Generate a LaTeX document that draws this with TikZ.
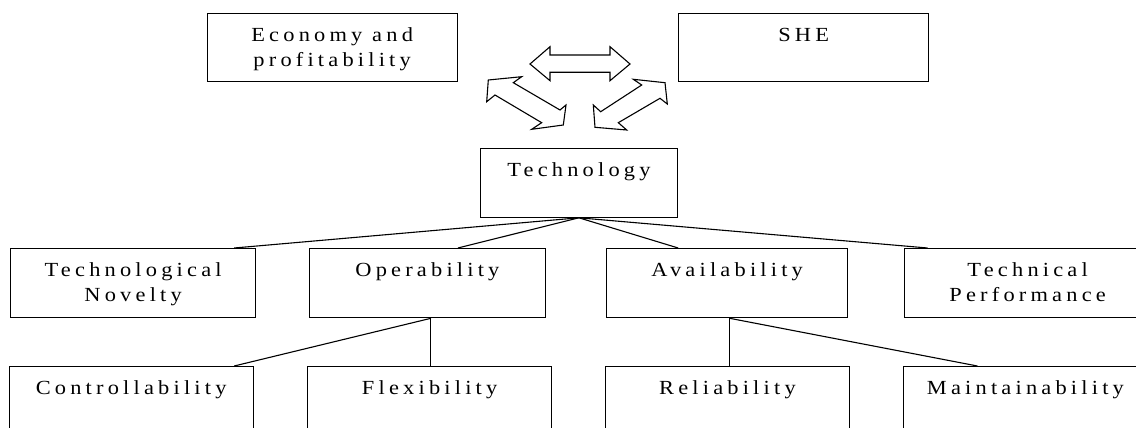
\documentclass[tikz,border=0pt]{standalone}
\usepackage{fontspec}
\setmainfont{Liberation Serif}[LetterSpace=21,FakeStretch=1.12]
\tikzset{
  box/.style={draw, line width=1.3pt, inner sep=0pt, anchor=north west},
  link/.style={line width=1.1pt},
  blockarrow/.style={draw, line width=1.1pt, line join=miter, fill=white},
}
\newcommand\mkbox[6]{%
  \node[box] (#1) at (#2,#3) {\parbox[c][\dimexpr #5pt-#3pt\relax][t]{\dimexpr #4pt-#2pt\relax}{%
    \fontsize{20}{25}\selectfont\centering\rule{0pt}{27.5pt}#6}};}
\begin{document}
\begin{tikzpicture}[x=1pt,y=-1pt]
\useasboundingbox (0,0) rectangle (1136,428);
\clip (0,0) rectangle (1136,428);
% top level
\mkbox{econ}{206.5}{13}{456.5}{81}{Economy and\\profitability}
\mkbox{she}{678}{13}{928}{81}{SHE}
\mkbox{tech}{480}{148}{676.5}{216.5}{Technology}
% second row
\mkbox{tn}{10}{248}{255}{317}{Technological\\Novelty}
\mkbox{oper}{308.5}{248}{545}{317}{Operability}
\mkbox{avail}{606}{248}{847}{317}{Availability}
\mkbox{tp}{904}{248}{1150}{317}{Technical\\Performance}
% third row
\mkbox{ctrl}{8.5}{366}{252.5}{440}{Controllability}
\mkbox{flex}{307}{366}{551}{440}{Flexibility}
\mkbox{rel}{604.5}{366}{849}{440}{Reliability}
\mkbox{maint}{902.5}{366}{1147}{440}{Maintainability}
% connectors
\draw[link] (tech.south) -- ([xshift=101pt]tn.north);
\draw[link] (tech.south) -- ([xshift=30.5pt]oper.north);
\draw[link] (tech.south) -- ([xshift=-49pt]avail.north);
\draw[link] (tech.south) -- ([xshift=-100pt]tp.north);
\coordinate (opj) at ([xshift=3.5pt]oper.south);
\coordinate (avj) at ([xshift=2.5pt]avail.south);
\draw[link] (opj) -- ([xshift=103pt]ctrl.north);
\draw[link] (opj) -- (opj |- flex.north);
\draw[link] (avj) -- (avj |- rel.north);
\draw[link] (avj) -- ([xshift=-48pt]maint.north);
% block arrows
\draw[blockarrow] (530,64) -- (550,46.7) -- (550,55) -- (610,55) -- (610,46.7)
  -- (630,64) -- (610,80.7) -- (610,72.3) -- (550,72.3) -- (550,80.7) -- cycle;
\draw[blockarrow] (488.3,80) -- (521.7,76.7) -- (513.3,82.7) -- (560,110) -- (566,105)
  -- (563.3,125) -- (531.7,129.3) -- (541.7,122.7) -- (495,95) -- (486.7,101.7) -- cycle;
\draw[blockarrow] (593.3,105) -- (600.7,111.7) -- (641.7,85) -- (633.3,79.3) -- (665,82.7)
  -- (667.3,104) -- (660,98.3) -- (618.3,122.7) -- (626.7,130) -- (595,127.3) -- cycle;
\end{tikzpicture}
\end{document}
